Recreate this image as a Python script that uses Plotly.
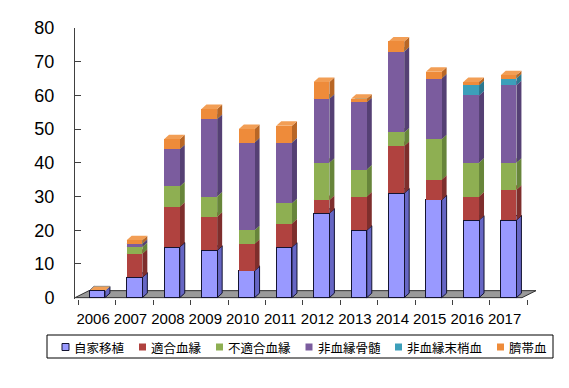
import plotly.graph_objects as go

# ---------------- data ----------------
years = ["2006", "2007", "2008", "2009", "2010", "2011",
         "2012", "2013", "2014", "2015", "2016", "2017"]
series_names = ["自家移植", "適合血縁", "不適合血縁", "非血縁骨髄", "非血縁末梢血", "臍帯血"]
autologous       = [2, 6, 15, 14, 8, 15, 25, 20, 31, 29, 23, 23]
related_match    = [0, 7, 12, 10, 8, 7, 4, 10, 14, 6, 7, 9]
related_mismatch = [0, 2, 6, 6, 4, 6, 11, 8, 4, 12, 10, 8]
unrelated_bm     = [0, 1, 11, 23, 26, 18, 19, 20, 24, 18, 20, 23]
unrelated_pb     = [0, 0, 0, 0, 0, 0, 0, 0, 0, 0, 3, 2]
cord_blood       = [0, 1, 3, 3, 4, 5, 5, 1, 3, 2, 1, 1]
y_ticks = [0, 10, 20, 30, 40, 50, 60, 70, 80]

series_values = [autologous, related_match, related_mismatch,
                 unrelated_bm, unrelated_pb, cord_blood]

# ---------------- style ----------------
front_colors = ["#9999FF", "#B0423F", "#8EAF52", "#7B5C9E", "#3C9FBA", "#EE8B3A"]
side_colors  = ["#6666C4", "#7E2E2C", "#67853A", "#554074", "#2B7890", "#B86625"]
top_colors   = ["#A8A8FF", "#C05A56", "#9DBE62", "#8C6EAE", "#55B0C8", "#F29E55"]
outline = "#141432"

W, H = 569, 388
L, R, T, B = 75, 29, 28, 89
plot_w = W - L - R
plot_h = H - T - B
XMIN, XMAX = -0.59, 11.84
YMIN, YMAX = -0.4, 80

ux = plot_w / (XMAX - XMIN)   # px per x unit
uy = plot_h / (YMAX - YMIN)   # px per y unit
bar_w = 0.42
dx = 5 / ux
dy = 4.5 / uy

xs = list(range(len(years)))

fig = go.Figure()
for k, (name, vals) in enumerate(zip(series_names, series_values)):
    fig.add_trace(go.Bar(
        x=xs, y=vals, name=name, width=bar_w,
        marker=dict(color=front_colors[k],
                    line=dict(color=outline, width=1 if k == 0 else 0)),
        showlegend=False, hoverinfo="skip"))

shapes = []
# floor
fx0 = XMIN
fx1 = XMIN + (522 - L) / ux
fdx = 14 / ux
fdy = 7 / uy
shapes.append(dict(type="path", xref="x", yref="y", layer="below",
                   path=f"M {fx0},0 L {fx1},0 L {fx1+fdx},{fdy} L {fx0+fdx},{fdy} Z",
                   fillcolor="#9A9A9A", line=dict(color="#303030", width=1)))

# 3D side and top faces
for i in xs:
    cum = 0
    xl = i - bar_w / 2
    xr = i + bar_w / 2
    for k, vals in enumerate(series_values):
        v = vals[i]
        y0, y1 = cum, cum + v
        lw = 1 if k == 0 else 0
        if v > 0:
            shapes.append(dict(type="path", xref="x", yref="y", layer="below",
                               path=f"M {xr},{y0} L {xr+dx},{y0+dy} L {xr+dx},{y1+dy} L {xr},{y1} Z",
                               fillcolor=side_colors[k], line=dict(color=outline, width=lw)))
        shapes.append(dict(type="path", xref="x", yref="y", layer="below",
                           path=f"M {xl},{y1} L {xr},{y1} L {xr+dx},{y1+dy} L {xl+dx},{y1+dy} Z",
                           fillcolor=top_colors[k], line=dict(color=outline, width=lw)))
        cum = y1

# legend (manual, pixel layout)
def px_x(p):
    return (p - L) / plot_w

def px_y(p):
    return (H - B - p) / plot_h

annotations = []
shapes.append(dict(type="rect", xref="paper", yref="paper",
                   x0=px_x(47), x1=px_x(553), y0=px_y(358), y1=px_y(335),
                   line=dict(color="#000000", width=1), fillcolor="rgba(0,0,0,0)"))
char_w = 12.5
cursor = 62
for k, name in enumerate(series_names):
    shapes.append(dict(type="rect", xref="paper", yref="paper",
                       x0=px_x(cursor), x1=px_x(cursor + 7),
                       y0=px_y(350.5), y1=px_y(343.5),
                       fillcolor=front_colors[k],
                       line=dict(color=outline, width=1 if k == 0 else 0)))
    tx = cursor + 10
    annotations.append(dict(text=name, x=px_x(tx), y=px_y(347), xref="paper", yref="paper",
                            xanchor="left", yanchor="middle", showarrow=False,
                            font=dict(family="Noto Sans CJK JP", size=12.5, color="#000000")))
    cursor = tx + len(name) * char_w + 17

fig.update_layout(
    barmode="stack",
    width=W, height=H,
    margin=dict(l=L, r=R, t=T, b=B, autoexpand=False),
    paper_bgcolor="white", plot_bgcolor="white",
    shapes=shapes, annotations=annotations,
    showlegend=False,
    xaxis=dict(range=[XMIN, XMAX], tickvals=xs, ticktext=years,
               showgrid=False, zeroline=False, showline=False, ticks="",
               tickfont=dict(family="Liberation Sans", size=15, color="#000000"),
               ticklabelstandoff=9, ticklabelshift=-4,
               minor=dict(tickvals=[i + 0.5 for i in range(-1, len(years))],
                          ticks="outside", ticklen=5, tickcolor="#404040", tickwidth=1,
                          showgrid=False)),
    yaxis=dict(range=[YMIN, YMAX], tickvals=y_ticks,
               showgrid=False, zeroline=False, showline=True,
               linecolor="#404040", linewidth=1,
               ticks="inside", ticklen=6, tickcolor="#404040",
               tickfont=dict(family="Liberation Sans", size=18, color="#000000"),
               ticklabelstandoff=16),
)

fig.write_html("out.html", config={"displayModeBar": False},
               post_script="document.body.style.margin='0';")
